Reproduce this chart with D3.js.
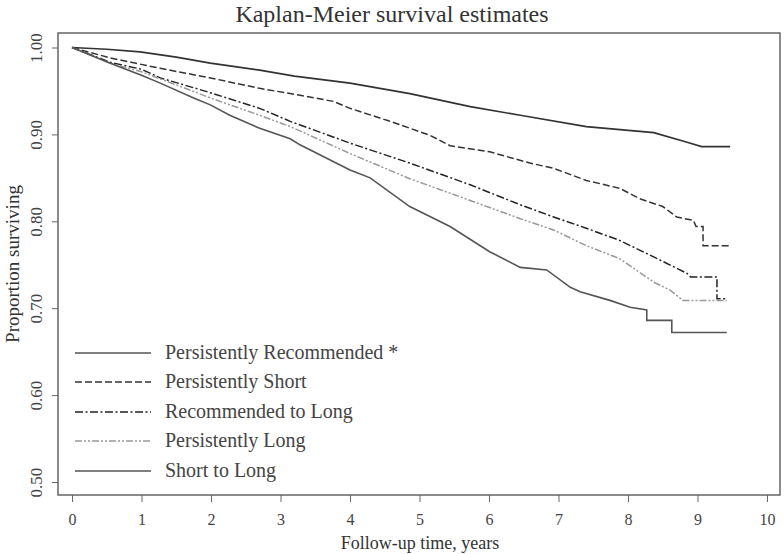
<!DOCTYPE html>
<html><head><meta charset="utf-8">
<script src="https://cdn.jsdelivr.net/npm/d3@7"></script>
<style>body{margin:0;background:#fff}svg{display:block}</style>
</head><body>
<script>
const seriesNames = ["Persistently Recommended *","Persistently Short","Recommended to Long","Persistently Long","Short to Long"];
const timesPR = [0,0.5,0.98,1.5,1.99,2.7,3.2,4.0,4.86,5.73,6.45,7.4,8.37,8.85,9.06,9.47];
const valsPR  = [1.000,0.998,0.995,0.989,0.982,0.974,0.967,0.959,0.947,0.932,0.922,0.909,0.902,0.891,0.886,0.886];
const timesPS = [0,0.55,1.27,1.99,2.7,3.28,3.76,4.0,4.58,5.15,5.44,6.01,6.59,6.93,7.4,7.88,8.17,8.5,8.7,8.94,8.98,9.08,9.08,9.47];
const valsPS  = [1.000,0.988,0.976,0.965,0.953,0.945,0.938,0.930,0.915,0.899,0.887,0.880,0.867,0.861,0.847,0.838,0.826,0.817,0.805,0.801,0.794,0.794,0.772,0.772];
const timesRL = [0,0.55,1.0,1.27,1.99,2.7,3.14,4.0,4.86,5.73,6.45,6.93,7.4,7.88,8.37,8.85,8.9,9.28,9.28,9.42];
const valsRL  = [1.000,0.983,0.975,0.965,0.948,0.930,0.915,0.890,0.867,0.842,0.819,0.805,0.792,0.778,0.759,0.740,0.736,0.736,0.711,0.711];
const timesPL = [0,0.55,1.0,1.5,1.99,2.7,3.14,4.0,4.86,5.73,6.45,6.93,7.4,7.88,8.37,8.6,8.79,9.42];
const valsPL  = [1.000,0.982,0.972,0.957,0.942,0.922,0.909,0.878,0.849,0.824,0.803,0.790,0.772,0.757,0.730,0.721,0.709,0.709];
const timesSL = [0,0.55,1.0,1.27,1.75,1.99,2.27,2.7,3.14,3.28,4.0,4.29,4.86,5.44,6.01,6.45,6.83,7.17,7.31,7.74,8.03,8.27,8.27,8.63,8.63,9.42];
const valsSL  = [1.000,0.982,0.968,0.959,0.942,0.934,0.922,0.907,0.895,0.888,0.859,0.850,0.817,0.794,0.765,0.747,0.744,0.724,0.719,0.709,0.701,0.698,0.686,0.686,0.672,0.672];
const xTicks = [0,1,2,3,4,5,6,7,8,9,10];
const yTicks = [0.5,0.6,0.7,0.8,0.9,1.0];
const yTickLabels = ["0.50","0.60","0.70","0.80","0.90","1.00"];

const W=784,H=554;
const svg=d3.select("body").append("svg").attr("width",W).attr("height",H);
const font="'Liberation Serif','Times New Roman',serif";
const x=d3.scaleLinear().domain([0,10]).range([72,767]);
const y=d3.scaleLinear().domain([0.5,1.0]).range([482,47.5]);
const box={l:58,r:780,t:33,b:495};

svg.append("text").attr("x",392).attr("y",22).attr("text-anchor","middle")
  .attr("font-family",font).attr("font-size",24).attr("fill","#333").text("Kaplan-Meier survival estimates");

svg.append("rect").attr("x",box.l).attr("y",box.t).attr("width",box.r-box.l).attr("height",box.b-box.t)
  .attr("fill","none").attr("stroke","#666").attr("stroke-width",1.5);

// x axis
const xa=svg.append("g").attr("transform",`translate(0,${box.b})`)
  .call(d3.axisBottom(x).tickValues(xTicks).tickSize(7).tickPadding(5).tickFormat(d3.format("d")));
xa.select(".domain").remove();
xa.selectAll("line").attr("stroke","#666");
xa.selectAll("text").attr("font-family",font).attr("font-size",16).attr("fill","#444")
  .attr("dy",0).attr("y",30);
// y axis
const ya=svg.append("g").attr("transform",`translate(${box.l},0)`)
  .call(d3.axisLeft(y).tickValues(yTicks).tickSize(6).tickFormat((d,i)=>yTickLabels[i]));
ya.select(".domain").remove();
ya.selectAll("line").attr("stroke","#666");
ya.selectAll("text").attr("font-family",font).attr("font-size",17).attr("fill","#444")
  .attr("text-anchor","middle").attr("transform","rotate(-90)").attr("x",0).attr("y",-16).attr("dy",0);

svg.append("text").attr("x",420).attr("y",549).attr("text-anchor","middle")
  .attr("font-family",font).attr("font-size",18).attr("fill","#333").text("Follow-up time, years");
svg.append("text").attr("transform","translate(19,264) rotate(-90)").attr("text-anchor","middle")
  .attr("font-family",font).attr("font-size",19).attr("fill","#333").text("Proportion surviving");

const series=[
  {t:timesPR,v:valsPR,color:"#333",dash:null,w:1.7},
  {t:timesPS,v:valsPS,color:"#333",dash:"7,3",w:1.5},
  {t:timesRL,v:valsRL,color:"#222",dash:"8,2.5,2,2.5",w:1.5},
  {t:timesPL,v:valsPL,color:"#999",dash:"7,2,2,2,2,2",w:1.5},
  {t:timesSL,v:valsSL,color:"#555",dash:null,w:1.6}
];
const line=d3.line().x(d=>x(d[0])).y(d=>y(d[1])).curve(d3.curveLinear);
series.forEach(s=>{
  svg.append("path").datum(s.t.map((t,i)=>[t,s.v[i]])).attr("d",line)
    .attr("fill","none").attr("stroke",s.color).attr("stroke-width",s.w)
    .attr("stroke-dasharray",s.dash);
});

// legend
const legY=[353,382,412,441,471];
series.forEach((s,i)=>{
  svg.append("line").attr("x1",75).attr("x2",151).attr("y1",legY[i]).attr("y2",legY[i])
    .attr("stroke",i===0?"#555":s.color).attr("stroke-width",s.w).attr("stroke-dasharray",s.dash);
  svg.append("text").attr("x",165).attr("y",legY[i]+6).attr("font-family",font).attr("font-size",20)
    .attr("fill","#444").text(seriesNames[i]);
});
</script>
</body></html>
